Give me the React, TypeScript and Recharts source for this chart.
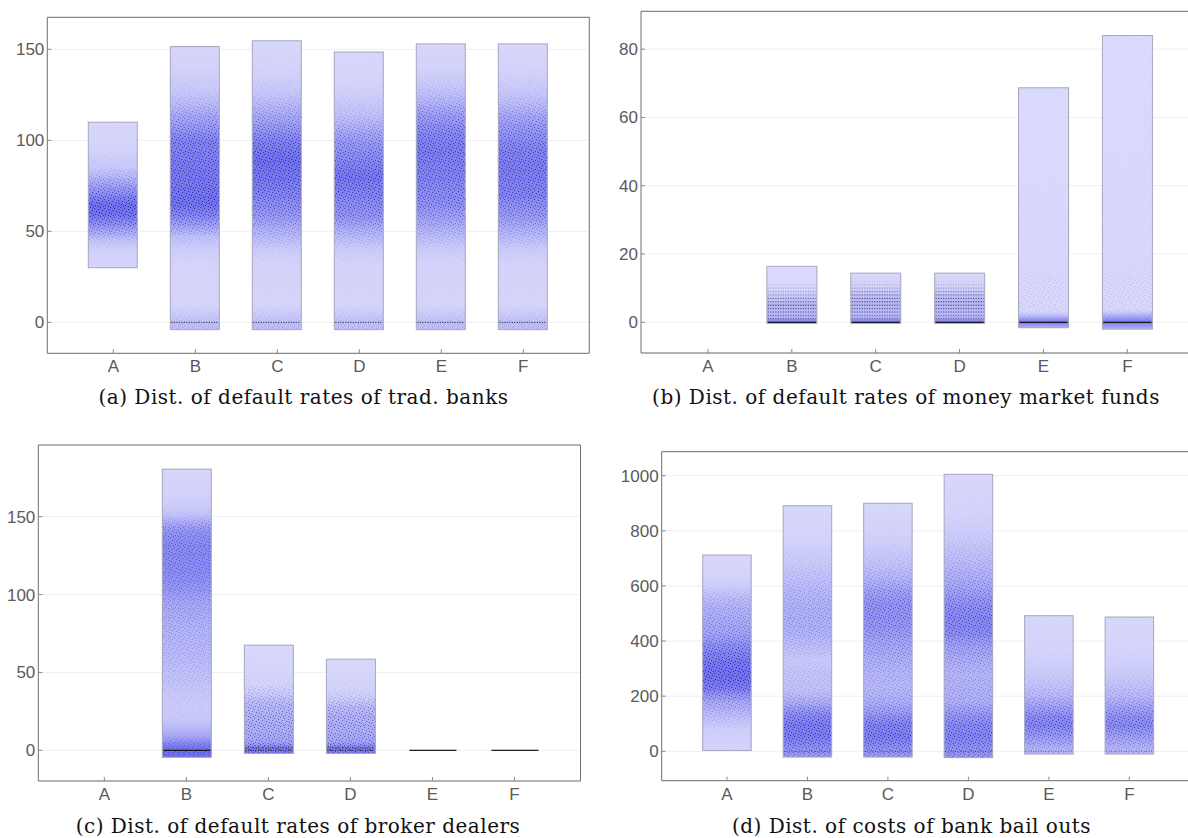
import React from 'react'
import { ComposedChart, Bar, XAxis, YAxis, CartesianGrid } from 'recharts'

const CATS = ['A', 'B', 'C', 'D', 'E', 'F']

// each profile is a list of [value, weight]; weight 0..1 is how dense the cloud is there
type Prof = [number, number][]

// (a) default rates of traditional banks
const bankLo = [30, -4, -4, -4, -4, -4]
const bankHi = [110, 151.5, 154.7, 148.5, 153, 153]
const bankDens: Prof[] = [
  [[30, 0.04], [40, 0.08], [45, 0.2], [50, 0.45], [55, 0.7], [60, 0.9], [65, 0.9], [70, 0.7], [75, 0.5], [80, 0.3], [85, 0.15], [95, 0.05], [110, 0.02]],
  [[-4, 0.25], [0, 0.22], [5, 0.12], [10, 0.04], [30, 0.04], [40, 0.1], [47, 0.22], [52, 0.45], [58, 0.7], [65, 0.9], [75, 0.85], [90, 0.8], [100, 0.75], [108, 0.55], [115, 0.4], [122, 0.22], [130, 0.12], [140, 0.06], [151.5, 0.03]],
  [[-4, 0.25], [0, 0.22], [5, 0.12], [10, 0.04], [30, 0.05], [40, 0.12], [50, 0.35], [60, 0.6], [70, 0.75], [80, 0.85], [90, 0.9], [100, 0.75], [110, 0.5], [118, 0.32], [125, 0.18], [135, 0.08], [145, 0.04], [154.7, 0.02]],
  [[-4, 0.25], [0, 0.22], [5, 0.12], [10, 0.04], [30, 0.05], [40, 0.12], [48, 0.3], [58, 0.6], [70, 0.75], [80, 0.85], [90, 0.7], [100, 0.55], [108, 0.35], [115, 0.2], [125, 0.1], [135, 0.04], [148.5, 0.02]],
  [[-4, 0.25], [0, 0.22], [5, 0.12], [10, 0.04], [30, 0.05], [40, 0.12], [48, 0.28], [55, 0.45], [65, 0.65], [80, 0.75], [95, 0.8], [105, 0.7], [115, 0.5], [122, 0.3], [130, 0.15], [140, 0.06], [153, 0.02]],
  [[-4, 0.25], [0, 0.22], [5, 0.12], [10, 0.04], [30, 0.05], [40, 0.12], [48, 0.3], [58, 0.55], [70, 0.75], [85, 0.8], [95, 0.75], [108, 0.55], [115, 0.4], [122, 0.22], [130, 0.12], [140, 0.05], [153, 0.02]],
]
const bankDots: (Prof | null)[] = [null, null, null, null, null, null]
const bankRows: Prof[] = [[], [[0, 0.8]], [[0, 0.8]], [[0, 0.8]], [[0, 0.8]], [[0, 0.8]]]

// (b) default rates of money market funds
const mmfLo = [null, -0.3, -0.3, -0.3, -1.6, -2]
const mmfHi = [null, 16.4, 14.4, 14.4, 68.7, 84]
const mmfDens: Prof[] = [
  [],
  [[-0.3, 0.7], [0.3, 0.75], [1, 0.45], [2, 0.3], [5, 0.3], [7, 0.2], [9, 0.08], [11, 0.02], [16.4, 0]],
  [[-0.3, 0.7], [0.3, 0.75], [1, 0.45], [2, 0.3], [6, 0.3], [8, 0.22], [10, 0.1], [12, 0.03], [14.4, 0]],
  [[-0.3, 0.7], [0.3, 0.75], [1, 0.45], [2, 0.3], [6, 0.3], [8, 0.22], [10, 0.1], [12, 0.03], [14.4, 0]],
  [[-1.6, 0.35], [-0.8, 0.55], [0, 0.85], [0.8, 0.6], [1.6, 0.35], [2.5, 0.12], [3.5, 0.02], [68.7, 0]],
  [[-2, 0.35], [-1, 0.55], [0, 0.85], [1, 0.6], [2, 0.35], [3, 0.12], [4, 0.02], [84, 0]],
]
const mmfDots: (Prof | null)[] = [
  null,
  [[-0.3, 0], [16.4, 0]],
  [[-0.3, 0], [14.4, 0]],
  [[-0.3, 0], [14.4, 0]],
  [[-1.6, 0], [3, 0.18], [12, 0.15], [16, 0.08], [25, 0.05], [40, 0.03], [68.7, 0.02]],
  [[-2, 0], [3, 0.18], [12, 0.15], [17, 0.08], [28, 0.05], [45, 0.03], [84, 0.02]],
]
const mmfRows: Prof[] = [
  [],
  [[0, 1], [1, 0.55], [2, 0.5], [3, 0.55], [4, 0.65], [5, 0.8], [6, 0.6], [7, 0.55], [8, 0.35], [9, 0.25], [10, 0.15], [11, 0.1]],
  [[0, 1], [1, 0.5], [2, 0.45], [3, 0.55], [4, 0.6], [5, 0.7], [6, 0.7], [7, 0.7], [8, 0.55], [9, 0.4], [10, 0.3], [11, 0.2], [12, 0.1], [13, 0.05]],
  [[0, 1], [1, 0.5], [2, 0.45], [3, 0.55], [4, 0.65], [5, 0.7], [6, 0.75], [7, 0.65], [8, 0.55], [9, 0.4], [10, 0.3], [11, 0.2], [12, 0.12], [13, 0.06]],
  [[0, 1]],
  [[0, 1]],
]

// (c) default rates of broker dealers
const bdLo = [null, -4.5, -2, -2, 0, 0]
const bdHi = [null, 180.5, 67.5, 58.5, 0, 0]
const bdDens: Prof[] = [
  [],
  [[-4.5, 0.9], [0, 0.9], [3, 0.8], [6, 0.6], [10, 0.4], [15, 0.25], [20, 0.15], [30, 0.12], [45, 0.2], [60, 0.28], [80, 0.35], [95, 0.45], [105, 0.6], [115, 0.68], [130, 0.7], [140, 0.62], [145, 0.45], [150, 0.25], [155, 0.12], [165, 0.06], [180.5, 0.03]],
  [[-2, 0.8], [0, 0.8], [2.5, 0.75], [4.5, 0.5], [10, 0.42], [20, 0.38], [30, 0.3], [36, 0.15], [42, 0.06], [50, 0.03], [67.5, 0.01]],
  [[-2, 0.8], [0, 0.8], [2.5, 0.75], [4.5, 0.5], [10, 0.42], [20, 0.38], [28, 0.28], [33, 0.12], [40, 0.05], [58.5, 0.01]],
  [],
  [],
]
const bdDots: (Prof | null)[] = [
  null,
  [[-4.5, 0.3], [0, 0.6], [3, 0.4], [8, 0.15], [20, 0.1], [60, 0.25], [100, 0.4], [130, 0.55], [145, 0.45], [150, 0.1], [180.5, 0.03]],
  [[-2, 0.3], [0, 0.9], [3, 0.8], [5, 0.55], [20, 0.6], [30, 0.5], [36, 0.3], [45, 0.1], [67.5, 0.03]],
  [[-2, 0.3], [0, 0.9], [3, 0.8], [5, 0.55], [18, 0.6], [27, 0.5], [33, 0.3], [40, 0.1], [58.5, 0.03]],
  null,
  null,
]
const bdRows: Prof[] = [[], [[0, 1]], [[0, 0.9], [1.5, 0.6]], [[0, 0.9], [1.5, 0.6]], [[0, 1]], [[0, 1]]]

// (d) costs of bank bail outs
const costLo = [3, -21, -21, -23, -10, -10]
const costHi = [712, 891, 900, 1005, 492, 487]
const costDens: Prof[] = [
  [[3, 0.05], [80, 0.1], [130, 0.25], [180, 0.45], [230, 0.8], [270, 0.9], [320, 0.85], [370, 0.7], [420, 0.5], [470, 0.42], [520, 0.35], [560, 0.25], [600, 0.1], [650, 0.04], [712, 0.02]],
  [[-21, 0.55], [0, 0.6], [50, 0.8], [100, 0.8], [140, 0.65], [175, 0.4], [220, 0.22], [280, 0.2], [330, 0.15], [380, 0.25], [430, 0.35], [480, 0.38], [530, 0.35], [580, 0.3], [630, 0.22], [680, 0.15], [750, 0.07], [800, 0.04], [891, 0.02]],
  [[-21, 0.55], [0, 0.6], [50, 0.8], [100, 0.75], [140, 0.55], [180, 0.38], [230, 0.3], [280, 0.32], [330, 0.38], [380, 0.45], [430, 0.55], [480, 0.62], [530, 0.62], [580, 0.5], [620, 0.35], [680, 0.2], [750, 0.1], [820, 0.05], [900, 0.02]],
  [[-23, 0.6], [0, 0.62], [50, 0.75], [100, 0.7], [140, 0.55], [180, 0.38], [230, 0.35], [280, 0.32], [330, 0.4], [380, 0.5], [430, 0.68], [480, 0.72], [530, 0.65], [580, 0.5], [630, 0.38], [680, 0.28], [730, 0.2], [800, 0.1], [880, 0.05], [1005, 0.02]],
  [[-10, 0.25], [0, 0.3], [50, 0.55], [90, 0.72], [120, 0.7], [160, 0.5], [200, 0.3], [250, 0.18], [300, 0.1], [380, 0.05], [492, 0.02]],
  [[-10, 0.25], [0, 0.3], [50, 0.5], [90, 0.68], [120, 0.65], [160, 0.48], [200, 0.3], [250, 0.18], [300, 0.1], [380, 0.04], [487, 0.02]],
]
const costDots: (Prof | null)[] = [null, null, null, null, null, null]
const costRows: Prof[] = [[], [[0, 0.45]], [[0, 0.45]], [[0, 0.45]], [[0, 0.45]], [[0, 0.45]]]

const build = (lo: (number | null)[], hi: (number | null)[], dens: Prof[], dots: (Prof | null)[], rows: Prof[]) =>
  CATS.map((cat, i) => ({
    cat,
    range: lo[i] == null ? null : [lo[i], hi[i]],
    lo: lo[i],
    hi: hi[i],
    dens: dens[i],
    dots: dots[i] || dens[i],
    rows: rows[i],
  }))

// speckle texture standing in for the scattered sample points
const SPECKS = [[0, 0], [4, 1], [8, 2], [2, 3], [6, 4], [9, 5], [1, 6], [5, 7], [3, 8], [8, 8]]

const DensityBox = (props: any) => {
  const { x, y, width, height, payload, pid, index } = props
  if (!payload || payload.lo == null) return null
  const { lo, hi, dens, dots, rows } = payload
  const span = hi - lo
  const off = (v: number) => (span > 0 ? Math.min(1, Math.max(0, (hi - v) / span)) : 0)
  const py = (v: number) => (span > 0 ? y + ((hi - v) / span) * height : y)
  const stops = (p: Prof, color: string, k: number) =>
    [...p]
      .sort((a, b) => b[0] - a[0])
      .map(([v, w], j) => <stop key={j} offset={off(v)} stopColor={color} stopOpacity={Math.min(1, w * k)} />)
  const g = `${pid}-${index}`
  return (
    <g>
      {span > 0 && (
        <>
          <defs>
            <linearGradient id={`${g}-d`} x1="0" y1="0" x2="0" y2="1">
              {stops(dens, '#5656f3', 0.9)}
            </linearGradient>
            <linearGradient id={`${g}-m`} x1="0" y1="0" x2="0" y2="1">
              {stops(dots, '#ffffff', 1)}
            </linearGradient>
            <pattern id={`${g}-p`} width={10} height={9} patternUnits="userSpaceOnUse">
              {SPECKS.map(([sx, sy], j) => (
                <rect key={j} x={sx} y={sy} width={1} height={1} fill="#1c1c3c" fillOpacity={0.8} />
              ))}
            </pattern>
            <mask id={`${g}-k`}>
              <rect x={x} y={y} width={width} height={height} fill={`url(#${g}-m)`} />
            </mask>
          </defs>
          <rect x={x} y={y} width={width} height={height} fill="#dadafc" />
          <rect x={x} y={y} width={width} height={height} fill={`url(#${g}-d)`} />
          <rect x={x} y={y} width={width} height={height} fill={`url(#${g}-p)`} mask={`url(#${g}-k)`} />
          <rect x={x} y={y} width={width} height={height} fill="none" stroke="#a6a6be" strokeWidth={1} />
        </>
      )}
      {rows.map(([v, w]: [number, number], j: number) => (
        <line
          key={j}
          x1={x + 1}
          x2={x + width - 1}
          y1={py(v)}
          y2={py(v)}
          stroke="#111"
          strokeOpacity={w >= 1 ? 0.95 : Math.min(1, w * 1.2)}
          strokeWidth={w >= 1 ? 1.3 : 1}
          strokeDasharray={w >= 1 ? undefined : '1 1.5'}
        />
      ))}
    </g>
  )
}

const tickFont = { fill: '#5a5a5a', fontSize: 17, fontFamily: '"Liberation Sans", Arial, sans-serif' }

interface PanelProps {
  pid: string
  left: number
  top: number
  width: number
  height: number
  margin: { top: number; right: number; bottom: number; left: number }
  yWidth: number
  domain: [number, number]
  ticks: number[]
  minor: number[]
  barSize: number
  data: any[]
  caption: string
  capX: number
  capY: number
}

const Panel: React.FC<PanelProps> = (p) => (
  <>
    <div style={{ position: 'absolute', left: p.left, top: p.top }}>
      <ComposedChart width={p.width} height={p.height} data={p.data} margin={p.margin}>
        <CartesianGrid vertical={false} stroke="#efefef" />
        <XAxis
          dataKey="cat"
          padding={{ left: 25, right: 25 }}
          height={30}
          tickSize={-4}
          tickMargin={11}
          stroke="#6e6e6e"
          tickLine={{ stroke: '#8a8a8a' }}
          tick={tickFont}
        />
        <XAxis
          xAxisId="top"
          orientation="top"
          dataKey="cat"
          padding={{ left: 25, right: 25 }}
          height={1}
          tickSize={-3}
          tick={false}
          stroke="#6e6e6e"
          tickLine={{ stroke: '#8a8a8a' }}
        />
        <YAxis
          type="number"
          domain={p.domain}
          allowDataOverflow
          ticks={p.ticks}
          width={p.yWidth}
          tickSize={-4}
          tickMargin={7}
          stroke="#6e6e6e"
          tickLine={{ stroke: '#8a8a8a' }}
          tick={tickFont}
        />
        <YAxis
          yAxisId="right"
          orientation="right"
          type="number"
          domain={p.domain}
          allowDataOverflow
          ticks={p.minor}
          width={1}
          tickSize={-2.5}
          tick={false}
          stroke="#6e6e6e"
          tickLine={{ stroke: '#8a8a8a' }}
        />
        <Bar
          dataKey="range"
          barSize={p.barSize}
          isAnimationActive={false}
          shape={(s: any) => <DensityBox {...s} pid={p.pid} />}
        />
      </ComposedChart>
    </div>
    <div
      style={{
        position: 'absolute',
        left: p.capX - 300,
        top: p.capY - 12,
        width: 600,
        lineHeight: '24px',
        textAlign: 'center',
        fontFamily: '"DejaVu Serif", serif',
        fontSize: 20,
        letterSpacing: 0.5,
        color: '#111',
      }}
    >
      {p.caption}
    </div>
  </>
)

const range = (a: number, b: number, s: number) => {
  const out: number[] = []
  for (let v = a; v <= b + 1e-9; v += s) out.push(v)
  return out
}

export default function App() {
  return (
    <div style={{ position: 'fixed', left: 0, top: 0, width: 1188, height: 838, overflow: 'hidden', background: '#fff' }}>
      <Panel
        pid="a"
        left={0}
        top={0}
        width={600}
        height={385}
        margin={{ top: 16.3, right: 9.7, bottom: 1.7, left: 7.3 }}
        yWidth={40}
        domain={[-17, 167.6]}
        ticks={[0, 50, 100, 150]}
        minor={range(-10, 160, 10)}
        barSize={49}
        data={build(bankLo, bankHi, bankDens, bankDots, bankRows)}
        caption="(a) Dist. of default rates of trad. banks"
        capX={303.5}
        capY={396.7}
      />
      <Panel
        pid="b"
        left={600}
        top={0}
        width={600}
        height={385}
        margin={{ top: 10.3, right: 4.7, bottom: 2, left: 1 }}
        yWidth={40}
        domain={[-9, 91.1]}
        ticks={[0, 20, 40, 60, 80]}
        minor={range(-5, 90, 5)}
        barSize={50}
        data={build(mmfLo, mmfHi, mmfDens, mmfDots, mmfRows)}
        caption="(b) Dist. of default rates of money market funds"
        capX={906}
        capY={396.7}
      />
      <Panel
        pid="c"
        left={0}
        top={420}
        width={600}
        height={400}
        margin={{ top: 24, right: 18.5, bottom: 9, left: 2.3 }}
        yWidth={36}
        domain={[-19.7, 196]}
        ticks={[0, 50, 100, 150]}
        minor={range(-10, 190, 10)}
        barSize={49}
        data={build(bdLo, bdHi, bdDens, bdDots, bdRows)}
        caption="(c) Dist. of default rates of broker dealers"
        capX={298}
        capY={825.5}
      />
      <Panel
        pid="d"
        left={600}
        top={420}
        width={600}
        height={400}
        margin={{ top: 30.7, right: 4.4, bottom: 9.3, left: 11.7 }}
        yWidth={50}
        domain={[-106.7, 1087]}
        ticks={[0, 200, 400, 600, 800, 1000]}
        minor={range(-100, 1050, 50)}
        barSize={48.5}
        data={build(costLo, costHi, costDens, costDots, costRows)}
        caption="(d) Dist. of costs of bank bail outs"
        capX={911.5}
        capY={825.5}
      />
    </div>
  )
}
